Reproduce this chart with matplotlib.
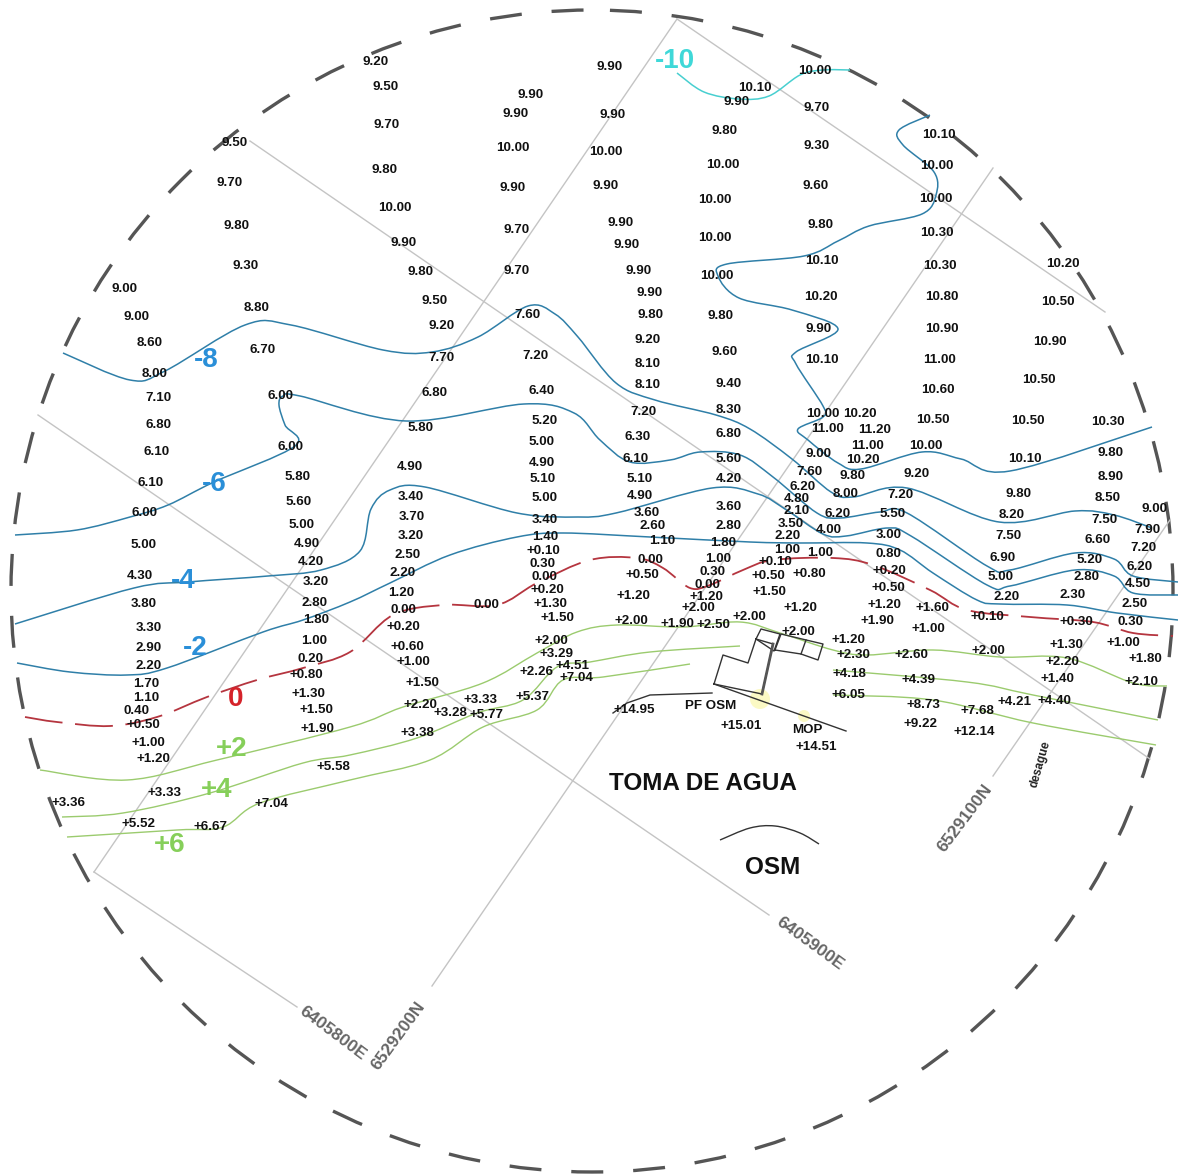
import matplotlib
matplotlib.use("Agg")
import matplotlib.pyplot as plt
from matplotlib.patches import Circle, PathPatch
from matplotlib.path import Path

# soundings, one list per survey column: x, y, label
col_a = [(125,289,"9.00"),(137,317,"9.00"),(150,343,"8.60"),(155,374,"8.00"),(158,398,"7.10"),(158,425,"6.80"),
         (157,452,"6.10"),(151,483,"6.10"),(144,513,"6.00"),(144,545,"5.00"),(140,576,"4.30"),(144,604,"3.80"),
         (149,628,"3.30"),(149,648,"2.90"),(149,666,"2.20"),(146,684,"1.70"),(146,698,"1.10"),(137,711,"0.40"),
         (143,725,"+0.50"),(148,743,"+1.00"),(153,759,"+1.20"),(164,793,"+3.33"),(68,803,"+3.36"),(138,824,"+5.52"),
         (210,827,"+6.67"),(271,804,"+7.04"),(333,767,"+5.58")]
col_b = [(235,143,"9.50"),(230,183,"9.70"),(236,226,"9.80"),(246,266,"9.30"),(257,308,"8.80"),(263,350,"6.70"),
         (281,396,"6.00"),(291,447,"6.00"),(298,477,"5.80"),(299,502,"5.60"),(302,525,"5.00"),(307,544,"4.90"),
         (311,562,"4.20"),(316,582,"3.20"),(315,603,"2.80"),(316,620,"1.80"),(314,641,"1.00"),(311,659,"0.20"),
         (306,675,"+0.80"),(308,694,"+1.30"),(316,710,"+1.50"),(317,729,"+1.90")]
col_c = [(376,62,"9.20"),(386,87,"9.50"),(387,125,"9.70"),(385,170,"9.80"),(395,208,"10.00"),(404,243,"9.90"),
         (420,272,"9.80"),(435,301,"9.50"),(442,326,"9.20"),(441,358,"7.70"),(434,393,"6.80"),(421,428,"5.80"),
         (410,467,"4.90"),(411,497,"3.40"),(412,517,"3.70"),(411,536,"3.20"),(408,555,"2.50"),(403,573,"2.20"),
         (401,593,"1.20"),(403,610,"0.00"),(403,627,"+0.20"),(407,647,"+0.60"),(413,662,"+1.00"),(422,683,"+1.50"),
         (420,705,"+2.20"),(486,605,"0.00")]
col_d = [(531,95,"9.90"),(516,114,"9.90"),(513,148,"10.00"),(513,188,"9.90"),(517,230,"9.70"),(517,271,"9.70"),
         (527,315,"7.60"),(535,356,"7.20"),(542,391,"6.40"),(545,421,"5.20"),(542,442,"5.00"),(542,463,"4.90"),
         (543,479,"5.10"),(545,498,"5.00"),(545,520,"3.40"),(545,537,"1.40"),(543,551,"+0.10"),(542,564,"0.30"),
         (544,577,"0.00"),(547,590,"+0.20"),(550,604,"+1.30"),(557,618,"+1.50"),(551,641,"+2.00"),(556,654,"+3.29"),
         (572,666,"+4.51"),(536,672,"+2.26"),(576,678,"+7.04"),(533,697,"+5.37"),(480,700,"+3.33"),(450,713,"+3.28"),
         (486,715,"+5.77"),(417,733,"+3.38")]
col_e = [(610,67,"9.90"),(613,115,"9.90"),(606,152,"10.00"),(606,186,"9.90"),(621,223,"9.90"),(627,245,"9.90"),
         (639,271,"9.90"),(650,293,"9.90"),(650,315,"9.80"),(648,340,"9.20"),(648,364,"8.10"),(648,385,"8.10"),
         (643,412,"7.20"),(638,437,"6.30"),(636,459,"6.10"),(640,479,"5.10"),(640,496,"4.90"),(647,513,"3.60"),
         (653,526,"2.60"),(662,541,"1.10"),(650,560,"0.00"),(642,575,"+0.50"),(633,596,"+1.20"),(631,621,"+2.00"),
         (677,624,"+1.90"),(713,625,"+2.50")]
col_f = [(755,88,"10.10"),(737,102,"9.90"),(725,131,"9.80"),(723,165,"10.00"),(715,200,"10.00"),(715,238,"10.00"),
         (717,276,"10.00"),(720,316,"9.80"),(725,352,"9.60"),(729,384,"9.40"),(729,410,"8.30"),(729,434,"6.80"),
         (729,459,"5.60"),(729,479,"4.20"),(729,507,"3.60"),(729,526,"2.80"),(723,543,"1.80"),(718,559,"1.00"),
         (712,572,"0.30"),(707,585,"0.00"),(706,597,"+1.20"),(698,608,"+2.00")]
col_g = [(815,71,"10.00"),(817,108,"9.70"),(817,146,"9.30"),(816,186,"9.60"),(820,225,"9.80"),(822,261,"10.10"),
         (821,297,"10.20"),(819,329,"9.90"),(822,360,"10.10"),(823,414,"10.00"),(860,414,"10.20"),(827,429,"11.00"),
         (875,430,"11.20"),(868,446,"11.00"),(863,460,"10.20"),(819,454,"9.00"),(809,472,"7.60"),(853,476,"9.80"),
         (846,494,"8.00"),(803,487,"6.20"),(797,499,"4.80"),(797,511,"2.10"),(838,514,"6.20"),(791,524,"3.50"),
         (788,536,"2.20"),(829,530,"4.00"),(787,550,"1.00"),(820,553,"1.00"),(775,562,"+0.10"),(768,576,"+0.50"),
         (809,574,"+0.80"),(769,592,"+1.50"),(800,608,"+1.20"),(749,617,"+2.00"),(798,632,"+2.00"),(848,640,"+1.20"),
         (853,655,"+2.30"),(849,674,"+4.18"),(848,695,"+6.05")]
col_h = [(939,135,"10.10"),(937,166,"10.00"),(936,199,"10.00"),(937,233,"10.30"),(940,266,"10.30"),(942,297,"10.80"),
         (942,329,"10.90"),(940,360,"11.00"),(938,390,"10.60"),(933,420,"10.50"),(926,446,"10.00"),(917,474,"9.20"),
         (900,495,"7.20"),(893,514,"5.50"),(889,535,"3.00"),(888,554,"0.80"),(889,571,"+0.20"),(888,588,"+0.50"),
         (884,605,"+1.20"),(932,608,"+1.60"),(877,621,"+1.90"),(928,629,"+1.00"),(911,655,"+2.60"),(918,680,"+4.39"),
         (923,705,"+8.73"),(920,724,"+9.22")]
col_i = [(1063,264,"10.20"),(1058,302,"10.50"),(1050,342,"10.90"),(1039,380,"10.50"),(1028,421,"10.50"),(1025,459,"10.10"),
         (1018,494,"9.80"),(1012,515,"8.20"),(1008,536,"7.50"),(1003,558,"6.90"),(1001,577,"5.00"),(1007,597,"2.20"),
         (987,617,"+0.10"),(988,651,"+2.00"),(977,711,"+7.68"),(974,732,"+12.14"),(1015,702,"+4.21")]
col_j = [(1108,422,"10.30"),(1110,453,"9.80"),(1111,477,"8.90"),(1108,498,"8.50"),(1104,520,"7.50"),(1098,540,"6.60"),
         (1090,560,"5.20"),(1086,577,"2.80"),(1073,595,"2.30"),(1076,622,"+0.30"),(1066,645,"+1.30"),(1062,662,"+2.20"),
         (1057,679,"+1.40"),(1054,701,"+4.40")]
col_k = [(1154,509,"9.00"),(1147,530,"7.90"),(1143,548,"7.20"),(1140,567,"6.20"),(1138,584,"4.50"),(1135,604,"2.50"),
         (1131,622,"0.30"),(1123,643,"+1.00"),(1145,659,"+1.80"),(1141,682,"+2.10")]
sites = [(634,710,"+14.95"),(711,706,"PF OSM"),(741,726,"+15.01"),(807,730,"MOP"),(816,747,"+14.51")]

# contours
iso_m10 = [(677,73),(704,92),(739,99),(769,96),(800,75),(823,70),(850,70)]
iso_m8a = [(930,115),(899,130),(903,145),(934,172),(936,195),(922,214),(869,226),(838,241),(804,256),(727,264),(718,276),
           (739,298),(792,310),(838,329),(796,352),(796,364),(823,406),(823,417),(798,429),(808,440),(838,463),(861,469),
           (922,452),(961,459),(1010,471),(1152,427)]
iso_m8b = [(63,353),(130,380),(165,371),(245,325),(291,325),(383,350),(432,352),(478,337),(528,306),(555,314),(578,337),
           (616,383),(655,400),(716,415),(750,429),(792,459),(831,492),(853,497),(907,488),(999,522),(1075,511),(1114,515),(1152,528)]
iso_m6 = [(15,535),(77,530),(130,517),(168,505),(214,482),(295,446),(285,425),(279,405),(283,396),(300,396),(406,421),
          (524,404),(574,413),(600,440),(630,462),(670,460),(700,452),(740,455),(773,477),(817,513),(840,518),
          (880,512),(907,513),(987,566),(1010,570),(1075,553),(1114,559),(1133,576),(1178,582)]
iso_m4 = [(15,624),(134,588),(188,582),(268,576),(321,570),(360,551),(371,509),(390,490),(425,487),(517,513),(578,517),
          (616,513),(712,488),(758,494),(785,509),(823,534),(846,536),(888,528),(911,536),(987,585),(1010,586),(1075,570),
          (1114,576),(1133,593),(1178,595)]
iso_m2 = [(17,663),(70,672),(127,675),(167,668),(263,632),(303,620),(350,602),(390,583),(450,555),(517,537),(563,533),
          (650,537),(750,542),(800,543),(867,543),(900,550),(933,573),(977,600),(1000,604),(1067,605),(1117,613),(1178,620)]
iso_0 = [(25,717),(57,722),(110,726),(157,717),(207,697),(257,680),(303,668),(350,652),(393,615),(443,605),(497,605),
         (537,583),(590,560),(637,558),(663,568),(690,588),(710,585),(743,570),(773,560),(833,558),(873,565),(930,590),
         (967,610),(1030,617),(1093,622),(1133,633),(1173,636)]
iso_p2 = [(40,770),(127,780),(217,760),(350,727),(403,707),(483,683),(537,653),(577,632),(617,625),(683,627),(740,622),
          (780,633),(833,650),(867,655),(933,650),(1000,657),(1067,658),(1133,683),(1167,686)]
iso_p4a = [(62,817),(123,813),(210,793),(303,763),(350,755),(417,738),(477,713),(523,700),(557,667),(590,662),(650,652),(740,646)]
iso_p4b = [(833,670),(967,682),(1033,695),(1158,720)]
iso_p6a = [(67,837),(177,830),(223,827),(260,803),(350,780),(430,760),(483,727),(537,710),(563,680),(603,677),(690,664)]
iso_p6b = [(833,695),(933,700),(1033,723),(1156,745)]

# grid lines
grid_lines = [[(94,872),(677,19)],[(432,986),(993,168)],[(993,776),(1170,520)],[(94,872),(297,1007)],
              [(38,415),(769,915)],[(250,141),(1150,759)],[(677,19),(1105,312)]]

# site outlines
bld_main = [(714,684),(723,655),(748,663),(756,639),(773,644),(762,694)]
bld_top = [(756,639),(761,629),(780,634),(774,651)]
bld_right = [(775,650),(781,634),(823,644),(818,660),(801,654)]
bld_div = [(806,640),(801,654)]
bld_edge = [(773,644),(762,694)]
shore = [(714,684),(846,731)]
pf_line = [(613,713),(627,703),(650,695),(712,693)]
osm_arc = [(720,840),(750,828),(775,826),(800,833),(819,844)]

BLUE = "#2f7fa8"
GREEN = "#9bcb6e"
RED = "#b5353f"
GREY = "#c4c4c4"
plt.rcParams["font.family"] = ["Liberation Sans", "DejaVu Sans"]


def smooth(pts):
    # catmull-rom through the traced points
    verts = [pts[0]]
    codes = [Path.MOVETO]
    for i in range(len(pts) - 1):
        p0 = pts[max(i - 1, 0)]
        p1 = pts[i]
        p2 = pts[i + 1]
        p3 = pts[min(i + 2, len(pts) - 1)]
        c1 = (p1[0] + (p2[0] - p0[0]) / 6, p1[1] + (p2[1] - p0[1]) / 6)
        c2 = (p2[0] - (p3[0] - p1[0]) / 6, p2[1] - (p3[1] - p1[1]) / 6)
        verts += [c1, c2, p2]
        codes += [Path.CURVE4] * 3
    return Path(verts, codes)


def draw_iso(ax, pts, color, lw=1.1, ls="-"):
    ax.add_patch(PathPatch(smooth(pts), fill=False, edgecolor=color, lw=lw, ls=ls, capstyle="butt", zorder=2))


def draw_poly(ax, pts, closed=False, lw=1.0, color="#333333"):
    if closed:
        pts = pts + [pts[0]]
    ax.plot([p[0] for p in pts], [p[1] for p in pts], color=color, lw=lw, zorder=2)


fig = plt.figure(figsize=(11.78, 11.75), dpi=100)
ax = fig.add_axes([0, 0, 1, 1])
ax.set_xlim(0, 1178)
ax.set_ylim(1175, 0)
ax.axis("off")

for seg in grid_lines:
    draw_poly(ax, seg, color=GREY, lw=1.0)

ax.add_patch(Circle((592, 591), 581, fill=False, edgecolor="#555555", lw=2.4, linestyle=(13.2, (9.6, 8.98)), zorder=1))

draw_iso(ax, iso_m10, "#48cfd0")
for iso in [iso_m8a, iso_m8b, iso_m6, iso_m4, iso_m2]:
    draw_iso(ax, iso, BLUE)
draw_iso(ax, iso_0, RED, lw=1.3, ls=(0, (21, 7)))
for iso in [iso_p2, iso_p4a, iso_p4b, iso_p6a, iso_p6b]:
    draw_iso(ax, iso, GREEN, lw=1.0)

ax.add_patch(Circle((760, 699), 10, facecolor="#fbf9c4", edgecolor="none", zorder=1.5))
ax.add_patch(Circle((804, 716), 6, facecolor="#fbf9c4", edgecolor="none", zorder=1.5))
draw_poly(ax, bld_main, closed=True)
draw_poly(ax, bld_top, closed=True)
draw_poly(ax, bld_right, closed=True)
draw_poly(ax, bld_div)
draw_poly(ax, bld_edge, lw=2.0, color="#555555")
draw_poly(ax, shore)
draw_poly(ax, pf_line)
draw_iso(ax, osm_arc, "#333333", lw=1.0)

for col in [col_a, col_b, col_c, col_d, col_e, col_f, col_g, col_h, col_i, col_j, col_k, sites]:
    for x, y, s in col:
        ax.text(x, y, s, fontsize=9.6, fontweight="bold", color="#111111", ha="center", va="center", zorder=3)

big = dict(family=["Liberation Sans Narrow", "Liberation Sans"], fontweight="bold", ha="center", va="center", zorder=3, fontsize=20)
ax.text(675, 61, "-10", color="#3fd8d8", **big)
ax.text(206, 360, "-8", color="#2a8fd8", **big)
ax.text(214, 484, "-6", color="#2a8fd8", **big)
ax.text(183, 581, "-4", color="#2a8fd8", **big)
ax.text(195, 648, "-2", color="#2a8fd8", **big)
ax.text(236, 699, "0", color="#d5232a", **big)
ax.text(232, 749, "+2", color="#86cf5a", **big)
ax.text(217, 790, "+4", color="#86cf5a", **big)
ax.text(170, 845, "+6", color="#86cf5a", **big)

ax.text(703, 784, "TOMA DE AGUA", fontsize=17.5, fontweight="bold", color="#111111", ha="center", va="center")
ax.text(773, 867, "OSM", fontsize=17.5, fontweight="bold", color="#111111", ha="center", va="center")

coord = dict(fontsize=12.5, fontweight="bold", color="#666666", ha="center", va="center", rotation_mode="anchor")
ax.text(810, 944, "6405900E", rotation=-36, **coord)
ax.text(333, 1033, "6405800E", rotation=-37, **coord)
ax.text(398, 1036, "6529200N", rotation=54, **coord)
ax.text(965, 818, "6529100N", rotation=53, **coord)
ax.text(1040, 764, "desague", rotation=74, fontsize=8.5, fontweight="bold", color="#222222", ha="center", va="center", rotation_mode="anchor")

fig.savefig("out.png", dpi=100)
